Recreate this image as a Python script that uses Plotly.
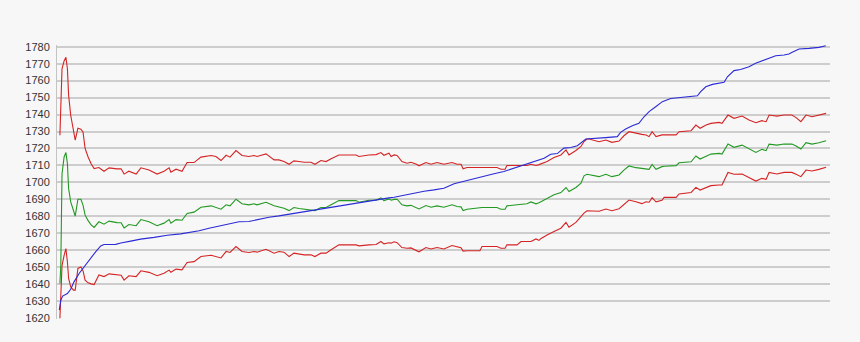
import plotly.graph_objects as go

# sample index of the band series (upper / mean / lower)
band_x = [0.3, 0.6, 1.0, 1.7, 2.3, 2.8, 3.2, 3.9, 4.8, 5.4, 6.3, 7.3, 8.0, 8.7, 9.7, 10.7, 11.7, 13.3,
          15.0, 16.7, 19.3, 20.7, 21.7, 23.3, 25.7, 27.3, 30.0, 32.7, 35.0, 36.7, 37.3, 39.0, 41.0, 42.7,
          45.0, 47.3, 50.7, 52.3, 54.0, 55.7, 57.0, 59.0, 61.0, 63.3, 65.0, 66.0, 69.0, 71.7, 73.3, 75.0,
          76.7, 78.3, 80.0, 81.7, 84.0, 85.3, 87.3, 89.0, 90.7, 93.3, 99.0, 100.0, 103.3, 105.7, 107.3,
          108.3, 110.0, 110.7, 111.7, 112.7, 114.3, 116.0, 117.3, 119.0, 120.0, 122.3, 124.0, 126.0,
          128.3, 131.0, 132.7, 134.0, 134.7, 136.0, 140.3, 141.0, 146.0, 147.3, 148.7, 149.3, 152.7,
          154.0, 156.0, 157.3, 159.0, 160.0, 160.7, 161.7, 162.7, 165.0, 167.3, 169.0, 170.0, 172.3,
          174.0, 175.0, 176.0, 176.7, 180.0, 182.3, 184.3, 186.7, 188.3, 190.0, 192.3, 194.3, 195.7,
          196.7, 197.7, 199.0, 201.0, 201.7, 205.7, 206.7, 210.7, 212.3, 213.7, 215.7, 217.3, 220.0,
          221.0, 223.0, 225.0, 227.7, 230.0, 232.3, 234.3, 235.7, 236.7, 239.3, 241.7, 244.3, 245.7,
          247.3, 249.0, 251.0, 253.3, 255.7]

upper = [1727.8, 1747.5, 1767.0, 1771.6, 1773.8, 1767.0, 1751.4, 1739.6, 1729.8, 1724.9, 1732.0, 1731.4,
         1729.8, 1720.0, 1715.0, 1711.0, 1708.2, 1708.8, 1706.6, 1708.6, 1708.0, 1708.0, 1704.9, 1706.6,
         1704.9, 1708.6, 1707.3, 1704.9, 1706.6, 1708.6, 1706.0, 1707.8, 1706.6, 1711.7, 1711.7, 1714.9,
         1715.9, 1715.3, 1712.9, 1716.0, 1714.9, 1718.8, 1715.9, 1715.3, 1715.9, 1715.3, 1716.8, 1713.3,
         1713.3, 1712.3, 1710.7, 1712.7, 1712.3, 1711.9, 1711.9, 1710.7, 1712.9, 1712.3, 1713.9, 1716.2,
         1716.2, 1715.3, 1716.2, 1716.4, 1717.6, 1716.0, 1717.2, 1715.3, 1716.2, 1715.9, 1712.3, 1711.3,
         1711.9, 1710.9, 1709.8, 1711.7, 1710.7, 1711.7, 1710.7, 1711.7, 1710.7, 1710.7, 1708.0, 1708.8,
         1708.8, 1708.8, 1708.8, 1707.8, 1707.8, 1710.0, 1710.0, 1710.0, 1710.0, 1710.7, 1710.0, 1710.5,
         1710.9, 1711.5, 1712.3, 1714.7, 1716.2, 1719.2, 1716.2, 1718.8, 1721.2, 1724.1, 1725.6, 1725.6,
         1724.0, 1725.0, 1723.6, 1724.4, 1727.5, 1729.9, 1728.9, 1728.3, 1728.0, 1727.0, 1729.9, 1727.0,
         1728.0, 1728.0, 1728.0, 1729.9, 1730.5, 1733.8, 1731.9, 1733.8, 1734.8, 1735.4, 1734.8, 1739.7,
         1737.8, 1739.1, 1736.8, 1735.2, 1736.4, 1735.8, 1739.7, 1739.1, 1739.7, 1739.7, 1738.2, 1735.8,
         1739.7, 1738.7, 1739.7, 1740.7]

middle = [1640.4, 1651.0, 1705.0, 1715.0, 1717.6, 1711.0, 1696.4, 1688.5, 1683.6, 1680.1, 1690.1, 1690.1,
          1686.6, 1680.7, 1677.5, 1675.0, 1673.5, 1676.8, 1675.4, 1677.2, 1676.3, 1676.2, 1673.2, 1675.2,
          1674.5, 1678.1, 1676.8, 1674.5, 1676.0, 1678.1, 1676.0, 1678.1, 1677.7, 1681.7, 1682.5, 1685.4,
          1686.2, 1685.2, 1684.2, 1686.8, 1686.2, 1690.1, 1687.4, 1686.8, 1687.4, 1686.8, 1688.3, 1686.2,
          1685.4, 1684.8, 1683.4, 1685.2, 1684.6, 1684.2, 1683.8, 1683.4, 1685.2, 1685.2, 1686.8, 1689.3,
          1689.3, 1688.3, 1689.5, 1689.5, 1690.9, 1689.3, 1690.3, 1689.5, 1690.0, 1690.1, 1686.8, 1686.2,
          1686.5, 1685.4, 1684.4, 1686.4, 1685.4, 1686.2, 1685.4, 1686.8, 1685.8, 1685.6, 1683.4, 1684.2,
          1684.8, 1685.2, 1685.2, 1684.2, 1684.2, 1686.2, 1686.8, 1687.0, 1687.4, 1688.5, 1687.4, 1688.0,
          1688.7, 1689.5, 1690.7, 1692.7, 1694.0, 1697.0, 1694.6, 1697.0, 1699.5, 1703.9, 1704.8, 1704.6,
          1703.4, 1704.8, 1703.4, 1704.4, 1707.3, 1709.7, 1708.7, 1708.3, 1708.0, 1707.7, 1710.6, 1707.7,
          1709.3, 1709.5, 1709.9, 1711.6, 1712.2, 1715.6, 1713.8, 1715.6, 1716.7, 1717.1, 1716.7, 1722.6,
          1720.7, 1722.0, 1719.7, 1717.7, 1719.5, 1718.7, 1722.6, 1722.0, 1722.6, 1722.6, 1721.5, 1719.7,
          1723.4, 1722.6, 1723.4, 1724.6]

lower = [1620.0, 1637.5, 1651.0, 1657.0, 1661.0, 1653.2, 1643.4, 1638.5, 1636.5, 1636.5, 1649.3, 1650.2,
         1648.0, 1642.4, 1640.8, 1640.2, 1639.8, 1645.5, 1644.5, 1646.1, 1645.7, 1645.3, 1642.4, 1645.0,
         1644.5, 1647.9, 1647.0, 1645.0, 1646.5, 1648.3, 1647.0, 1648.9, 1648.5, 1652.8, 1653.3, 1656.3,
         1657.1, 1656.3, 1655.5, 1659.3, 1658.7, 1662.2, 1659.3, 1658.7, 1659.3, 1658.9, 1660.6, 1658.3,
         1659.3, 1658.9, 1656.3, 1658.3, 1657.7, 1657.3, 1657.3, 1656.3, 1658.3, 1658.3, 1660.3, 1663.2,
         1663.2, 1662.6, 1663.2, 1663.4, 1665.2, 1663.8, 1664.4, 1664.2, 1665.0, 1664.5, 1661.6, 1661.2,
         1661.4, 1659.7, 1659.1, 1661.6, 1660.8, 1661.6, 1660.8, 1662.8, 1662.2, 1661.5, 1659.5, 1659.7,
         1659.7, 1662.2, 1662.2, 1661.2, 1661.2, 1663.2, 1663.2, 1665.2, 1665.2, 1665.2, 1666.7, 1665.8,
         1667.0, 1668.1, 1669.0, 1671.1, 1673.0, 1676.4, 1673.6, 1676.4, 1679.9, 1681.9, 1683.3, 1683.3,
         1683.0, 1684.3, 1683.3, 1684.5, 1687.0, 1689.6, 1688.6, 1687.5, 1688.6, 1688.3, 1691.0, 1688.6,
         1689.5, 1691.2, 1691.2, 1693.2, 1694.1, 1697.1, 1695.5, 1697.1, 1698.1, 1698.5, 1698.5, 1705.9,
         1704.8, 1705.0, 1702.8, 1700.8, 1702.4, 1701.8, 1705.9, 1705.0, 1705.9, 1705.9, 1704.8, 1703.4,
         1707.3, 1706.7, 1707.7, 1708.9]

# cumulative (blue) series
trend_x = [0.1, 0.6, 1.2, 2.8, 3.9, 5.0, 6.7, 8.3, 10.6, 12.2, 13.9, 15.0, 18.9, 20.6, 23.9, 27.2, 31.7,
           36.1, 40.6, 45.0, 46.7, 50.0, 53.3, 56.7, 60.0, 63.3, 66.7, 70.0, 73.3, 76.7, 80.0, 83.3, 86.7,
           90.0, 93.3, 96.7, 100.0, 103.3, 106.7, 110.0, 111.7, 115.0, 118.3, 121.7, 125.0, 128.3, 131.7,
           135.0, 138.3, 141.7, 145.0, 148.3, 151.7, 155.0, 158.3, 161.7, 163.9, 166.1, 168.3, 170.6,
           172.8, 175.0, 175.6, 182.2, 186.1, 187.2, 188.9, 191.1, 193.3, 195.0, 196.7, 198.9, 201.1,
           203.9, 206.7, 210.0, 212.8, 213.9, 215.6, 217.8, 221.7, 222.8, 225.0, 227.2, 230.0, 232.2,
           234.4, 236.7, 238.9, 241.7, 243.3, 244.4, 246.7, 250.0, 253.3, 255.6]
trend = [1624.7, 1630.6, 1633.0, 1634.5, 1637.0, 1641.4, 1646.3, 1650.2, 1655.2, 1659.1, 1662.6, 1663.4,
         1663.5, 1664.3, 1665.4, 1666.6, 1667.6, 1668.9, 1669.7, 1670.7, 1671.5, 1673.0, 1674.4, 1675.6,
         1676.8, 1677.0, 1678.3, 1679.5, 1680.3, 1681.3, 1682.3, 1683.4, 1684.4, 1685.2, 1686.4, 1687.2,
         1688.2, 1688.9, 1690.1, 1690.9, 1691.3, 1692.5, 1693.7, 1694.8, 1695.6, 1696.6, 1699.2, 1700.7,
         1702.5, 1703.9, 1705.1, 1706.4, 1708.4, 1710.4, 1712.3, 1714.3, 1716.6, 1717.0, 1720.2, 1720.6,
         1721.6, 1724.7, 1725.6, 1726.4, 1727.0, 1729.5, 1731.5, 1733.4, 1734.8, 1738.7, 1741.7, 1744.6,
         1747.6, 1749.5, 1750.1, 1750.5, 1751.1, 1753.5, 1756.4, 1757.8, 1759.0, 1762.3, 1765.9, 1766.6,
         1768.2, 1770.2, 1771.6, 1773.5, 1774.7, 1775.1, 1775.7, 1776.7, 1778.6, 1779.0, 1779.6, 1780.6]

y_ticks = [1620, 1630, 1640, 1650, 1660, 1670, 1680, 1690, 1700, 1710, 1720, 1730, 1740, 1750, 1760, 1770, 1780]

RED = "#d42424"
GREEN = "#229922"
BLUE = "#2a2ad6"

fig = go.Figure()
fig.add_trace(go.Scatter(x=band_x, y=upper, mode="lines", line=dict(color=RED, width=1.1), hoverinfo="skip"))
fig.add_trace(go.Scatter(x=band_x, y=lower, mode="lines", line=dict(color=RED, width=1.1), hoverinfo="skip"))
fig.add_trace(go.Scatter(x=band_x, y=middle, mode="lines", line=dict(color=GREEN, width=1.1), hoverinfo="skip"))
fig.add_trace(go.Scatter(x=trend_x, y=trend, mode="lines", line=dict(color=BLUE, width=1.1), hoverinfo="skip"))

fig.update_layout(
    width=860, height=342,
    margin=dict(l=57, r=30, t=45, b=23, pad=0),
    paper_bgcolor="#f7f7f7", plot_bgcolor="#f7f7f7",
    showlegend=False,
    font=dict(family="Liberation Sans, Arial, sans-serif", size=11, color="#333333"),
    xaxis=dict(range=[-0.67, 257.0], showgrid=False, zeroline=False, showticklabels=False,
               showline=False, fixedrange=True),
    yaxis=dict(range=[1619.5, 1781.0], tickvals=y_ticks, ticktext=[str(v) for v in y_ticks],
               showgrid=True, gridcolor="#cdcdcd", gridwidth=1.5, zeroline=False,
               showline=True, linecolor="#c4c4c4", linewidth=1, ticks="", ticklabelstandoff=4,
               tickfont=dict(size=11, color="#333333"), fixedrange=True),
)

fig.write_html("out.html")
